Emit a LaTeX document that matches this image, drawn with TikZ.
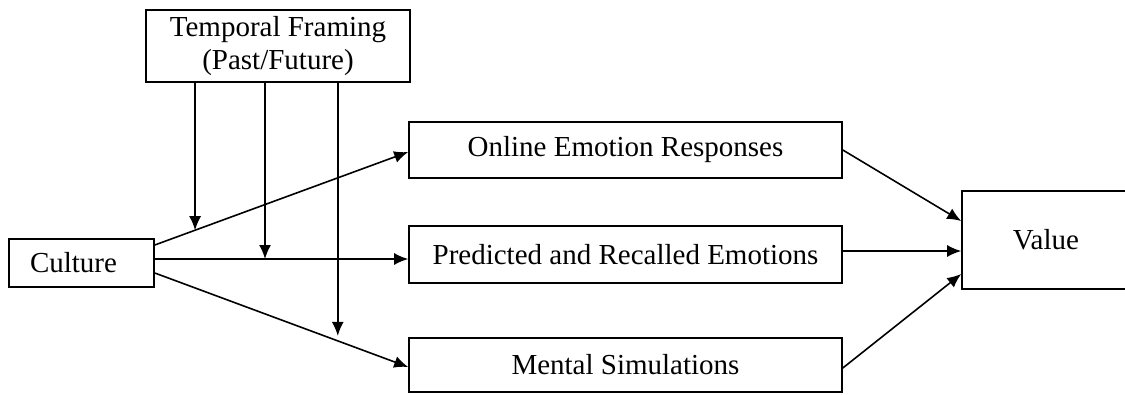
\documentclass[tikz,border=0pt]{standalone}
\usepackage{fontspec}
\setmainfont{Liberation Serif}
\usetikzlibrary{arrows.meta,calc}

\begin{document}
\begin{tikzpicture}[x=1pt,y=-1pt,line width=1.6pt,
  arr/.style={-{Latex[length=14pt,width=12pt]}},
  box/.style={draw,rectangle,inner sep=0pt,align=center,font=\fontsize{29}{33}\selectfont}]
  \useasboundingbox (0,0) rectangle (1125,394);

  \node[box,minimum width=264pt,minimum height=72pt] (tf)  at (278,46)    {Temporal Framing\\(Past/Future)};
  \node[box,minimum width=145pt,minimum height=48pt] (cul) at (81.5,263)  {Culture\hspace{16pt}};
  \node[box,minimum width=433pt,minimum height=56pt] (onl) at (625.5,150) {Online Emotion Responses};
  \node[box,minimum width=433pt,minimum height=57pt] (pre) at (625.5,254.5) {Predicted and Recalled Emotions};
  \node[box,minimum width=433pt,minimum height=54pt] (men) at (625.5,365) {Mental Simulations};
  \node[box,minimum width=168pt,minimum height=98pt] (val) at (1046,240)  {Value};

  % culture to the three routes
  \coordinate (c1) at ($(cul.east)+(0,-18)$);
  \coordinate (c2) at ($(cul.east)+(0,-4)$);
  \coordinate (c3) at ($(cul.east)+(0,10)$);

  \path[arr] (c1) edge coordinate[pos=0.159] (k1) ($(onl.west)+(0,2)$);
  \path[arr] (c2) edge coordinate[pos=0.435] (k2) ($(pre.west)+(0,4.5)$);
  \path[arr] (c3) edge coordinate[pos=0.722] (k3) ($(men.west)+(0,2)$);

  % framing moderates each route
  \path[arr] (k1 |- tf.south) edge (k1);
  \path[arr] (k2 |- tf.south) edge (k2);
  \path[arr,shorten >=5pt] (k3 |- tf.south) edge (k3);

  % routes into value
  \path[arr] (onl.east) edge ($(val.west)+(0,-19)$);
  \path[arr] ($(pre.east)+(0,-3.5)$) edge ($(val.west)+(0,11)$);
  \path[arr] ($(men.east)+(0,3)$) edge ($(val.west)+(0,34)$);
\end{tikzpicture}
\end{document}
